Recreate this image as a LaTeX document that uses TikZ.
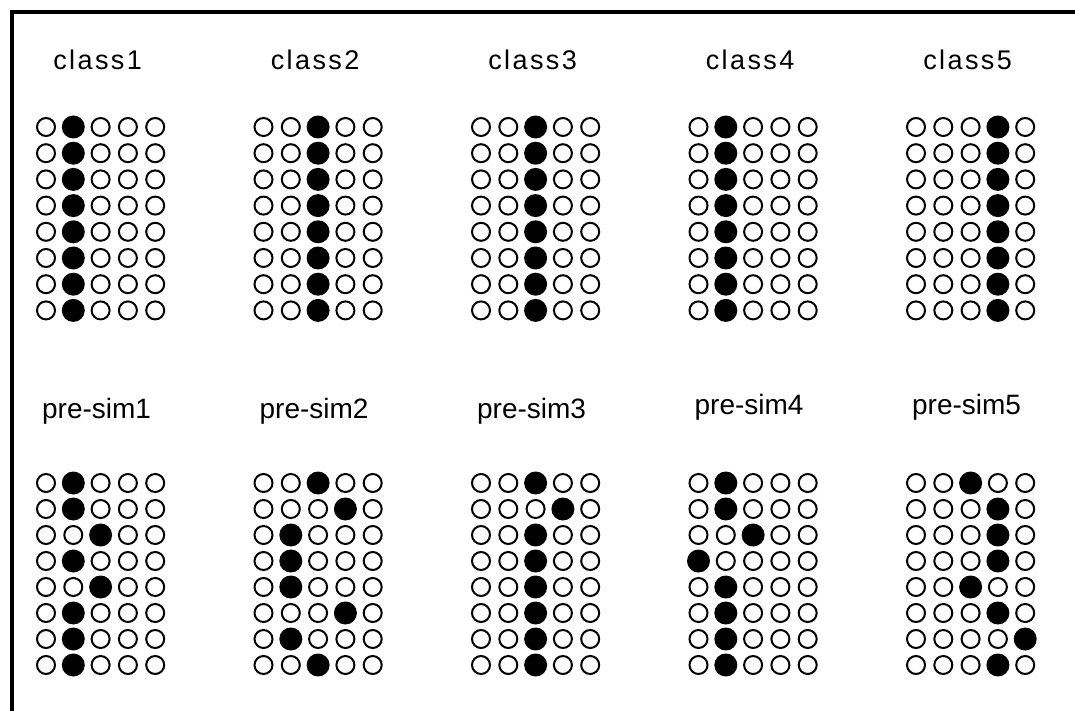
\documentclass[tikz,border=0pt]{standalone}
\usepackage{fontspec}
\setmainfont{Liberation Sans}
\begin{document}
\begin{tikzpicture}[x=1pt,y=-1pt,
  open/.style={circle, draw=black, line width=2pt, minimum size=18pt, inner sep=0pt, fill=white},
  full/.style={circle, fill=black, minimum size=23pt, inner sep=0pt},
  lab/.style={anchor=base, inner sep=0pt, font=\fontsize{28}{30}\selectfont},
  classlab/.style={anchor=base, inner sep=0pt, font=\fontsize{27}{30}\selectfont\addfontfeature{LetterSpace=9}},
  frame/.style={line width=3.5pt}]
\useasboundingbox (0,0) rectangle (1075,711);
\fill[white] (0,0) rectangle (1075,711);
% frame
\coordinate (tr) at (1080,12);
\coordinate (tl) at (12,12);
\coordinate (bl) at (12,716);
\draw[frame] (tr) -- (tl) -- (bl);
% top row: classes
\foreach \g/\k in {0/1,1/2,2/2,3/1,4/3}{
  \pgfmathsetmacro\cx{46+217.5*\g+54.6-3}
  \pgfmathtruncatemacro\gn{\g+1}
  \node[classlab] (class\gn) at (\cx,70) {class\gn};
  \foreach \r in {0,...,7}{
    \pgfmathsetmacro\yy{127+26.2*\r}
    \foreach \c in {0,...,4}{
      \pgfmathsetmacro\xx{46+217.5*\g+27.3*\c}
      \ifnum\c=\k\relax
        \node[full] (t\g-\r-\c) at (\xx,\yy) {};
      \else
        \node[open] (t\g-\r-\c) at (\xx,\yy) {};
      \fi
    }
  }
}
% bottom row: pre-sims
\foreach \g/\by/\a/\b/\cc/\d/\e/\f/\h/\i in {
  0/418/1/1/2/1/2/1/1/1,
  1/418/2/3/1/1/1/3/1/2,
  2/418/2/3/2/2/2/2/2/2,
  3/414/1/1/2/0/1/1/1/1,
  4/414/2/3/3/3/2/3/4/3}{
  \pgfmathsetmacro\cx{46+217.5*\g+54.6-4}
  \pgfmathtruncatemacro\gn{\g+1}
  \node[lab] (presim\gn) at (\cx,\by) {pre-sim\gn};
  \foreach \r/\k in {0/\a,1/\b,2/\cc,3/\d,4/\e,5/\f,6/\h,7/\i}{
    \pgfmathsetmacro\yy{483+26*\r}
    \foreach \c in {0,...,4}{
      \pgfmathsetmacro\xx{46+217.5*\g+27.3*\c}
      \ifnum\c=\k\relax
        \node[full] (b\g-\r-\c) at (\xx,\yy) {};
      \else
        \node[open] (b\g-\r-\c) at (\xx,\yy) {};
      \fi
    }
  }
}
\end{tikzpicture}
\end{document}
